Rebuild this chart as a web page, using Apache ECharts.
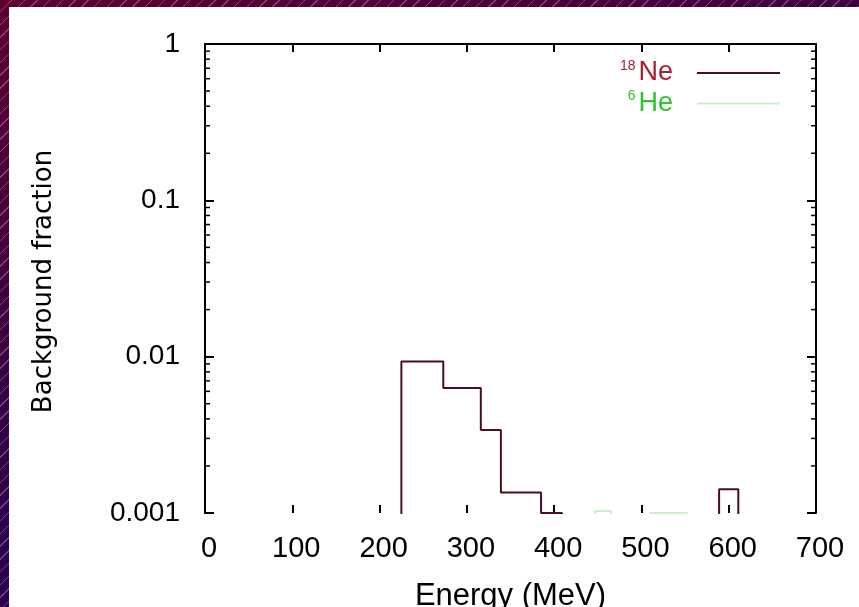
<!DOCTYPE html>
<html>
<head>
<meta charset="utf-8">
<script src="https://cdn.jsdelivr.net/npm/echarts@6/dist/echarts.min.js"></script>
<style>
  html, body { margin: 0; padding: 0; width: 859px; height: 607px; overflow: hidden; }
  body {
    background:
      repeating-linear-gradient(135deg, rgba(0,0,0,0) 0px, rgba(0,0,0,0) 8px, rgba(225,140,200,0.45) 8px, rgba(225,140,200,0.45) 9px),
      linear-gradient(160deg, #5c0030 0%, #300048 50%, #1a0062 100%);
  }
  #chart { position: absolute; left: 9px; top: 7px; width: 850px; height: 600px; background: #fff; }
</style>
</head>
<body>
<div id="chart"></div>
<script>
// Energy axis ticks (MeV)
const energyTicks = [0, 100, 200, 300, 400, 500, 600, 700];
// Background fraction decade labels
const fractionTicks = [0.001, 0.01, 0.1, 1];
const fractionLabels = ['0.001', '0.01', '0.1', '1'];
// Minor log ticks (2..9 in each decade)
const minorTicks = [
  0.002, 0.003, 0.004, 0.005, 0.006, 0.007, 0.008, 0.009,
  0.02, 0.03, 0.04, 0.05, 0.06, 0.07, 0.08, 0.09,
  0.2, 0.3, 0.4, 0.5, 0.6, 0.7, 0.8, 0.9
];

// 18Ne histogram: bin edges (MeV) and background fraction per bin
const neEdges  = [200, 225, 273, 316, 339, 385, 409, 589, 611, 700];
const neValues = [0.0002, 0.0093, 0.0063, 0.0034, 0.00135, 0.001, 0.0002, 0.00142, 0.0002];

// 6He histogram
const heEdges  = [430, 447, 465, 510, 552, 600];
const heValues = [0.0002, 0.00103, 0.0002, 0.001, 0.0002];

function stepPoints(edges, values) {
  const pts = values.map((v, i) => [edges[i], v]);
  pts.push([edges[edges.length - 1], values[values.length - 1]]);
  return pts;
}

const chart = echarts.init(document.getElementById('chart'), null, { renderer: 'canvas' });

const sans = 'Liberation Sans, Arial, sans-serif';
const frameLine = { show: true, onZero: false, lineStyle: { color: '#000', width: 2 } };
const majorTick = { show: true, inside: true, length: 9, lineStyle: { color: '#000', width: 2 } };

chart.setOption({
  animation: false,
  backgroundColor: '#fff',
  grid: { left: 196, right: 43, top: 37, bottom: 94, containLabel: false, outerBoundsMode: 'none' },
  xAxis: [
    {
      type: 'value', min: 0, max: 700, interval: 100, position: 'bottom',
      axisLine: { show: false, onZero: false },
      axisTick: { show: true, inside: true, length: 8, lineStyle: { color: '#000', width: 2 } },
      axisLabel: { fontSize: 29, margin: 21, padding: [0, 0, 0, 8], color: '#000', fontFamily: sans,
        formatter: v => String(energyTicks[energyTicks.indexOf(v)]) },
      splitLine: { show: false },
      name: 'Energy (MeV)', nameLocation: 'middle', nameGap: 68,
      nameTextStyle: { fontSize: 31, color: '#000', fontFamily: sans }
    },
    {
      type: 'value', min: 0, max: 700, interval: 100, position: 'top',
      axisLine: frameLine,
      axisTick: { show: true, inside: true, length: 8, lineStyle: { color: '#000', width: 2 } },
      axisLabel: { show: false },
      splitLine: { show: false }
    }
  ],
  yAxis: [
    {
      type: 'log', logBase: 10, min: 0.001, max: 1, position: 'left',
      axisLine: frameLine,
      axisTick: majorTick,
      axisLabel: { fontSize: 28, margin: 25, color: '#000', fontFamily: sans,
        formatter: v => {
          const i = fractionTicks.findIndex(t => Math.abs(Math.log10(t) - Math.log10(v)) < 1e-6);
          return i >= 0 ? fractionLabels[i] : '';
        } },
      splitLine: { show: false },
      name: 'Background fraction', nameLocation: 'middle', nameGap: 148,
      nameTextStyle: { fontSize: 26, color: '#000', fontFamily: 'DejaVu Sans, sans-serif', padding: [0, 6, 0, 0] }
    },
    {
      type: 'log', logBase: 10, min: 0.001, max: 1, position: 'right',
      axisLine: frameLine,
      axisTick: majorTick,
      axisLabel: { show: false },
      splitLine: { show: false }
    }
  ],
  legend: {
    orient: 'vertical', right: 79, top: 52, align: 'right', padding: 0,
    icon: 'rect', itemWidth: 83, itemHeight: 2, itemGap: 3,
    data: [
      { name: '18Ne', textStyle: { color: '#a8202f' } },
      { name: '6He', textStyle: { color: '#33c033' } }
    ],
    formatter: name => '{sup|' + name.match(/^\d+/)[0] + '}{el|' + name.replace(/^\d+/, '') + '}',
    textStyle: {
      fontFamily: sans,
      padding: [0, 19, 0, 0],
      rich: {
        sup: { fontSize: 14, padding: [0, 3, 14, 0], fontFamily: sans },
        el: { fontSize: 27, lineHeight: 26, fontFamily: sans }
      }
    }
  },
  series: [
    {
      name: '18Ne', type: 'line', step: 'end', symbol: 'none', clip: true,
      xAxisIndex: 0, yAxisIndex: 0,
      lineStyle: { color: '#4a1018', width: 2 }, itemStyle: { color: '#4a1018' },
      data: stepPoints(neEdges, neValues)
    },
    {
      name: '6He', type: 'line', step: 'end', symbol: 'none', clip: true,
      xAxisIndex: 0, yAxisIndex: 0,
      lineStyle: { color: '#cdeccd', width: 2 }, itemStyle: { color: '#cdeccd' },
      data: stepPoints(heEdges, heValues)
    },
    {
      // minor log ticks on the left and right frame
      type: 'custom', xAxisIndex: 0, yAxisIndex: 0, silent: true,
      data: minorTicks,
      renderItem: (params, api) => {
        const cs = params.coordSys;
        const y = api.coord([0, api.value(0)])[1];
        const style = { stroke: '#000', lineWidth: 1.5 };
        return {
          type: 'group',
          children: [
            { type: 'line', shape: { x1: cs.x, y1: y, x2: cs.x + 5, y2: y }, style },
            { type: 'line', shape: { x1: cs.x + cs.width - 5, y1: y, x2: cs.x + cs.width, y2: y }, style }
          ]
        };
      }
    }
  ]
});
</script>
</body>
</html>
